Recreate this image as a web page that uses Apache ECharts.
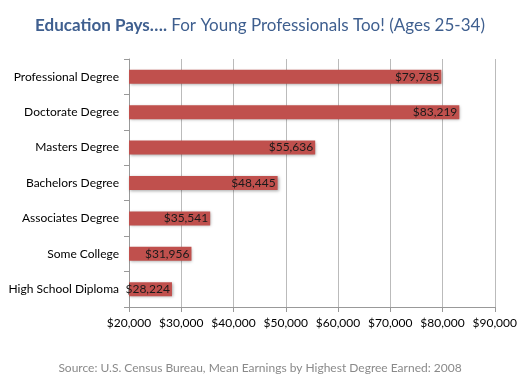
<!DOCTYPE html>
<html><head><meta charset="utf-8">
<script src="https://cdn.jsdelivr.net/npm/echarts@6/dist/echarts.min.js"></script>
<style>html,body{margin:0;padding:0;background:#fff}#c{width:520px;height:390px}</style>
</head><body><div id="c"></div>
<script>
const categories = ["High School Diploma","Some College","Associates Degree","Bachelors Degree","Masters Degree","Doctorate Degree","Professional Degree"];
const values = [28224,31956,35541,48445,55636,83219,79785];
const xMin = 20000, xMax = 90000, xStep = 10000;
const titleBold = "Education Pays….";
const titleRest = " For Young Professionals Too! (Ages 25-34)";
const sourceText = "Source: U.S. Census Bureau, Mean Earnings by Highest Degree Earned: 2008";
const fmt = v => "$" + v.toLocaleString("en-US");
const FONT = "Lato";
const chart = echarts.init(document.getElementById("c"));
chart.setOption({
  animation:false,
  textStyle:{fontFamily:FONT},
  title:[{
    text:"{b|"+titleBold+"}{r|"+titleRest+"}",
    left:"center", top:12,
    textStyle:{rich:{
      b:{fontFamily:FONT,fontWeight:"bold",fontSize:17,color:"#3f5f8f"},
      r:{fontFamily:FONT,fontWeight:"normal",fontSize:17,color:"#3f5f8f"}
    }}
  },{
    text:sourceText, left:"center", top:357,
    textStyle:{fontFamily:FONT,fontWeight:"normal",fontSize:12,color:"#8a8a8a"}
  }],
  grid:{left:129,right:25,top:59,bottom:83,containLabel:false},
  xAxis:{type:"value",min:xMin,max:xMax,interval:xStep,
    axisLine:{show:true,lineStyle:{color:"#999"}},
    axisTick:{show:true,length:5,lineStyle:{color:"#999"}},
    splitLine:{show:true,lineStyle:{color:"#bbb"}},
    axisLabel:{formatter:fmt,color:"#000",fontSize:12,margin:10}},
  yAxis:{type:"category",data:categories,
    axisLine:{show:true,lineStyle:{color:"#999"}},
    axisTick:{show:true,length:5,inside:false,lineStyle:{color:"#999"}},
    axisLabel:{color:"#000",fontSize:12,margin:10}},
  series:[{type:"bar",data:values,barWidth:14,
    itemStyle:{color:"#c0504d",shadowColor:"rgba(0,0,0,0.35)",shadowBlur:3,shadowOffsetX:1,shadowOffsetY:1},
    label:{show:true,position:"insideRight",formatter:p=>fmt(p.value),color:"#1a1a1a",fontSize:12,distance:2}}]
});
</script></body></html>
